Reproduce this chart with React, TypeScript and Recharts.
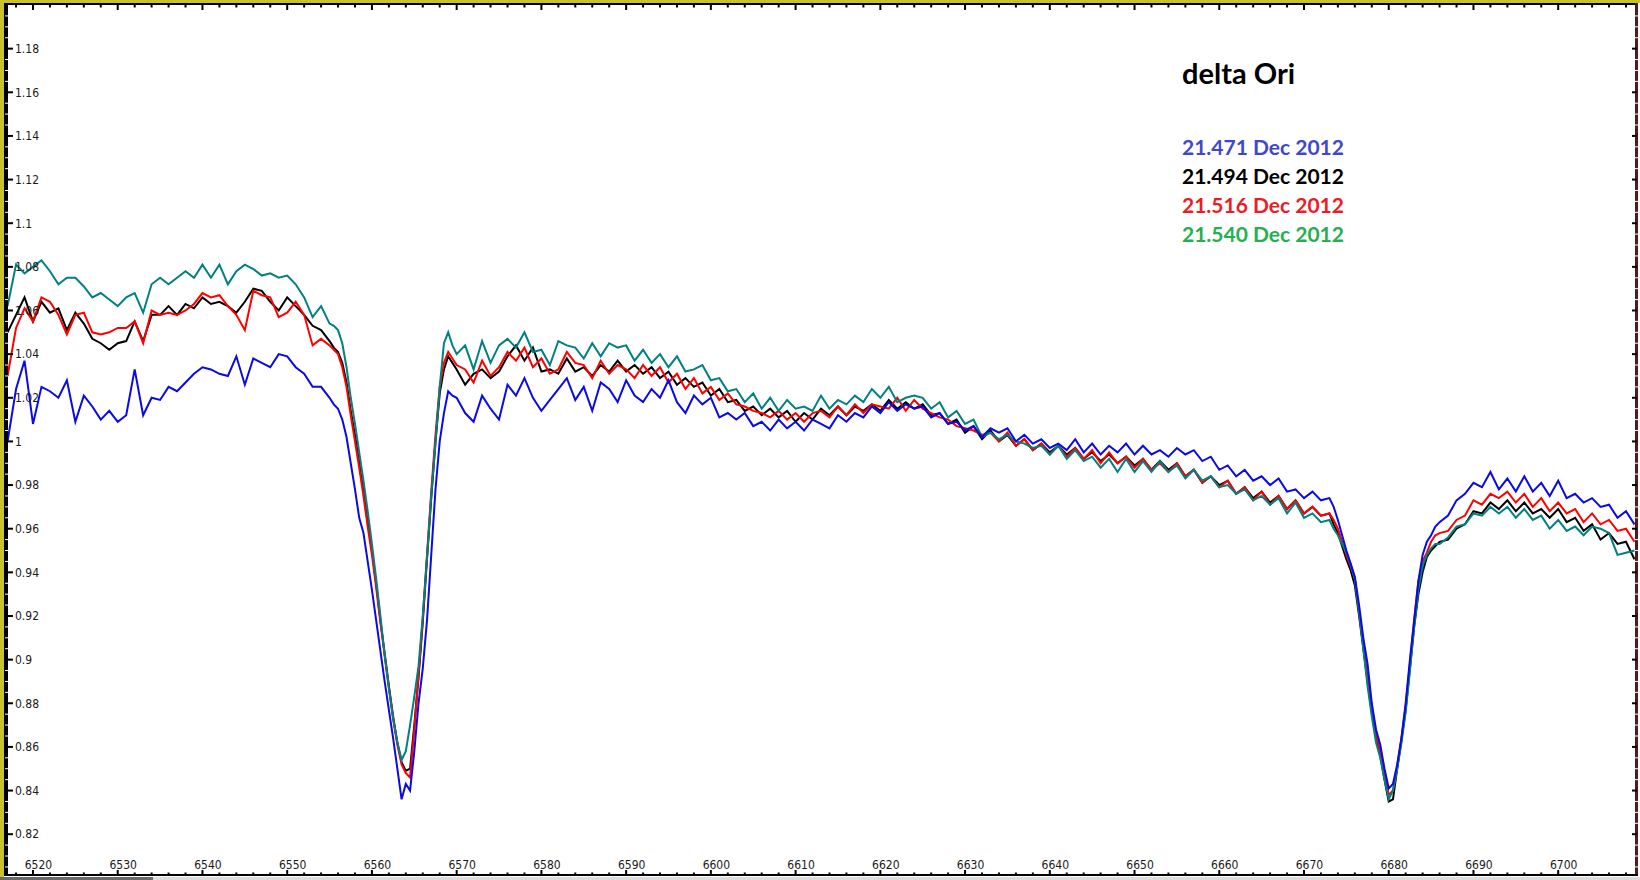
import { Line, LineChart, XAxis, YAxis } from "recharts";

// wavelength grid (Angstrom), finer across the two absorption lines
const wavelengths = [
  6517, 6518, 6519, 6520, 6521, 6522, 6523, 6524, 6525, 6526,
  6527, 6528, 6529, 6530, 6531, 6532, 6533, 6534, 6535, 6536,
  6537, 6538, 6539, 6540, 6541, 6542, 6543, 6544, 6545, 6546,
  6547, 6548, 6549, 6550, 6551, 6552, 6553, 6554, 6555,
  6555.5, 6556, 6556.5, 6557, 6557.5, 6558, 6558.5, 6559, 6559.5, 6560,
  6560.5, 6561, 6561.5, 6562, 6562.5, 6563, 6563.5, 6564, 6564.5, 6565,
  6565.5, 6566, 6566.5, 6567, 6567.5, 6568, 6568.5, 6569, 6569.5, 6570,
  6571, 6572, 6573, 6574, 6575, 6576, 6577, 6578, 6579, 6580,
  6581, 6582, 6583, 6584, 6585, 6586, 6587, 6588, 6589, 6590,
  6591, 6592, 6593, 6594, 6595, 6596, 6597, 6598, 6599, 6600,
  6601, 6602, 6603, 6604, 6605, 6606, 6607, 6608, 6609, 6610,
  6611, 6612, 6613, 6614, 6615, 6616, 6617, 6618, 6619, 6620,
  6621, 6622, 6623, 6624, 6625, 6626, 6627, 6628, 6629, 6630,
  6631, 6632, 6633, 6634, 6635, 6636, 6637, 6638, 6639, 6640,
  6641, 6642, 6643, 6644, 6645, 6646, 6647, 6648, 6649, 6650,
  6651, 6652, 6653, 6654, 6655, 6656, 6657, 6658, 6659, 6660,
  6661, 6662, 6663, 6664, 6665, 6666, 6667, 6668, 6669, 6670,
  6671, 6672, 6673,
  6673.5, 6674, 6674.5, 6675, 6675.5, 6676, 6676.5, 6677, 6677.5, 6678,
  6678.5, 6679, 6679.5, 6680, 6680.5, 6681, 6681.5, 6682, 6682.5, 6683,
  6683.5, 6684, 6684.5, 6685, 6685.5, 6686,
  6687, 6688, 6689, 6690, 6691, 6692, 6693, 6694, 6695, 6696,
  6697, 6698, 6699, 6700, 6701, 6702, 6703, 6704, 6705, 6706,
  6707, 6708, 6709,
];

// 21.471 Dec 2012
const blueFlux = [
  1.000, 1.024, 1.037, 1.008, 1.025, 1.023, 1.020, 1.028, 1.009, 1.021,
  1.016, 1.010, 1.014, 1.009, 1.012, 1.033, 1.012, 1.020, 1.019, 1.025,
  1.023, 1.027, 1.031, 1.034, 1.033, 1.031, 1.030, 1.039, 1.026, 1.038,
  1.036, 1.034, 1.040, 1.039, 1.034, 1.031, 1.025, 1.025, 1.020,
  1.017, 1.015, 1.010, 1.002, 0.990, 0.978, 0.965, 0.958, 0.945, 0.932,
  0.918, 0.904, 0.890, 0.877, 0.864, 0.850, 0.836, 0.843, 0.840, 0.858,
  0.880, 0.896, 0.918, 0.948, 0.978, 1.000, 1.013, 1.023, 1.021, 1.020,
  1.013, 1.009, 1.021, 1.015, 1.010, 1.026, 1.021, 1.029, 1.020, 1.014,
  1.019, 1.024, 1.029, 1.019, 1.025, 1.014, 1.027, 1.024, 1.018, 1.028,
  1.021, 1.018, 1.024, 1.020, 1.028, 1.018, 1.013, 1.021, 1.017, 1.020,
  1.011, 1.013, 1.010, 1.013, 1.007, 1.009, 1.005, 1.010, 1.006, 1.009,
  1.005, 1.010, 1.008, 1.006, 1.012, 1.009, 1.013, 1.011, 1.016, 1.013,
  1.018, 1.014, 1.017, 1.015, 1.016, 1.011, 1.013, 1.008, 1.009, 1.005,
  1.007, 1.002, 1.006, 1.004, 1.006, 1.000, 1.003, 0.999, 1.001, 0.997,
  0.999, 0.996, 1.001, 0.995, 0.999, 0.994, 0.998, 0.995, 0.999, 0.994,
  0.998, 0.994, 0.996, 0.993, 0.997, 0.994, 0.996, 0.991, 0.993, 0.987,
  0.989, 0.984, 0.987, 0.982, 0.984, 0.980, 0.983, 0.977, 0.978, 0.974,
  0.977, 0.973, 0.974,
  0.970, 0.964, 0.957, 0.950, 0.944, 0.938, 0.925, 0.910, 0.898, 0.880,
  0.868, 0.861, 0.850, 0.841, 0.843, 0.852, 0.864, 0.880, 0.900, 0.918,
  0.936, 0.948, 0.954, 0.957, 0.961, 0.963,
  0.966, 0.973, 0.976, 0.981, 0.979, 0.986, 0.978, 0.983, 0.977, 0.984,
  0.977, 0.981, 0.975, 0.982, 0.974, 0.976, 0.972, 0.974, 0.970, 0.971,
  0.965, 0.968, 0.962,
];

// 21.494 Dec 2012
const blackFlux = [
  1.050, 1.058, 1.066, 1.055, 1.064, 1.059, 1.061, 1.051, 1.059, 1.054,
  1.047, 1.045, 1.042, 1.045, 1.046, 1.055, 1.046, 1.058, 1.058, 1.062,
  1.058, 1.063, 1.061, 1.066, 1.063, 1.064, 1.062, 1.059, 1.064, 1.070,
  1.069, 1.064, 1.060, 1.066, 1.062, 1.058, 1.053, 1.051, 1.046,
  1.043, 1.041, 1.036, 1.027, 1.014, 1.003, 0.990, 0.977, 0.963, 0.950,
  0.935, 0.918, 0.903, 0.888, 0.874, 0.862, 0.853, 0.849, 0.850, 0.870,
  0.892, 0.917, 0.946, 0.974, 1.000, 1.022, 1.033, 1.039, 1.036, 1.033,
  1.026, 1.031, 1.033, 1.029, 1.032, 1.039, 1.044, 1.037, 1.043, 1.032,
  1.033, 1.031, 1.038, 1.032, 1.034, 1.030, 1.035, 1.032, 1.037, 1.032,
  1.035, 1.031, 1.034, 1.029, 1.032, 1.026, 1.029, 1.025, 1.027, 1.021,
  1.024, 1.018, 1.019, 1.014, 1.016, 1.012, 1.015, 1.011, 1.014, 1.009,
  1.013, 1.010, 1.015, 1.012, 1.016, 1.012, 1.016, 1.014, 1.017, 1.014,
  1.019, 1.015, 1.018, 1.015, 1.017, 1.012, 1.013, 1.008, 1.010, 1.004,
  1.007, 1.001, 1.005, 1.000, 1.003, 0.998, 1.001, 0.996, 0.999, 0.995,
  0.998, 0.994, 0.997, 0.992, 0.995, 0.991, 0.994, 0.990, 0.993, 0.989,
  0.992, 0.987, 0.991, 0.987, 0.990, 0.984, 0.987, 0.981, 0.984, 0.980,
  0.982, 0.976, 0.979, 0.974, 0.977, 0.972, 0.975, 0.969, 0.973, 0.967,
  0.970, 0.966, 0.967,
  0.962, 0.958, 0.952, 0.946, 0.941, 0.934, 0.920, 0.905, 0.890, 0.876,
  0.864, 0.856, 0.845, 0.835, 0.836, 0.850, 0.863, 0.877, 0.896, 0.915,
  0.930, 0.940, 0.947, 0.950, 0.952, 0.954,
  0.955, 0.960, 0.962, 0.968, 0.967, 0.972, 0.969, 0.973, 0.968, 0.972,
  0.967, 0.969, 0.965, 0.969, 0.963, 0.965, 0.959, 0.962, 0.955, 0.958,
  0.953, 0.954, 0.946,
];

// 21.516 Dec 2012
const redFlux = [
  1.030, 1.052, 1.061, 1.055, 1.066, 1.064, 1.058, 1.049, 1.058, 1.059,
  1.050, 1.049, 1.050, 1.052, 1.052, 1.055, 1.045, 1.060, 1.058, 1.059,
  1.058, 1.060, 1.063, 1.068, 1.066, 1.067, 1.062, 1.058, 1.051, 1.069,
  1.067, 1.066, 1.057, 1.059, 1.064, 1.058, 1.044, 1.047, 1.044,
  1.042, 1.040, 1.034, 1.025, 1.012, 1.000, 0.988, 0.975, 0.961, 0.948,
  0.933, 0.917, 0.902, 0.887, 0.873, 0.861, 0.852, 0.848, 0.846, 0.868,
  0.893, 0.919, 0.948, 0.977, 1.003, 1.025, 1.036, 1.041, 1.038, 1.035,
  1.033, 1.027, 1.037, 1.030, 1.034, 1.041, 1.037, 1.043, 1.034, 1.038,
  1.031, 1.033, 1.041, 1.036, 1.035, 1.029, 1.037, 1.031, 1.035, 1.033,
  1.029, 1.035, 1.030, 1.034, 1.027, 1.031, 1.024, 1.029, 1.022, 1.025,
  1.019, 1.022, 1.017, 1.016, 1.014, 1.013, 1.011, 1.014, 1.010, 1.013,
  1.009, 1.013, 1.014, 1.011, 1.016, 1.012, 1.017, 1.013, 1.017, 1.016,
  1.015, 1.020, 1.014, 1.019, 1.015, 1.013, 1.011, 1.010, 1.007, 1.006,
  1.005, 1.003, 1.004, 1.000, 1.004, 0.998, 1.001, 0.996, 0.999, 0.994,
  0.998, 0.993, 0.997, 0.992, 0.996, 0.990, 0.995, 0.990, 0.993, 0.988,
  0.992, 0.987, 0.990, 0.986, 0.990, 0.984, 0.987, 0.981, 0.984, 0.979,
  0.982, 0.976, 0.979, 0.973, 0.977, 0.971, 0.975, 0.969, 0.973, 0.967,
  0.970, 0.966, 0.967,
  0.964, 0.960, 0.954, 0.948, 0.943, 0.937, 0.922, 0.907, 0.892, 0.878,
  0.866, 0.858, 0.847, 0.838, 0.840, 0.851, 0.864, 0.879, 0.898, 0.918,
  0.936, 0.945, 0.949, 0.954, 0.957, 0.958,
  0.959, 0.964, 0.966, 0.973, 0.971, 0.976, 0.974, 0.977, 0.972, 0.976,
  0.970, 0.974, 0.968, 0.972, 0.967, 0.969, 0.963, 0.967, 0.962, 0.964,
  0.959, 0.960, 0.954,
];

// 21.540 Dec 2012
const tealFlux = [
  1.062, 1.081, 1.077, 1.080, 1.083, 1.078, 1.072, 1.075, 1.075, 1.071,
  1.066, 1.068, 1.065, 1.062, 1.066, 1.068, 1.059, 1.072, 1.075, 1.072,
  1.075, 1.078, 1.075, 1.081, 1.075, 1.081, 1.072, 1.078, 1.081, 1.079,
  1.076, 1.077, 1.075, 1.076, 1.072, 1.066, 1.057, 1.062, 1.054,
  1.053, 1.051, 1.045, 1.034, 1.020, 1.008, 0.995, 0.982, 0.968, 0.953,
  0.937, 0.920, 0.902, 0.887, 0.873, 0.862, 0.854, 0.858, 0.870, 0.883,
  0.897, 0.920, 0.947, 0.975, 0.999, 1.025, 1.045, 1.050, 1.044, 1.040,
  1.044, 1.033, 1.046, 1.036, 1.044, 1.047, 1.043, 1.050, 1.041, 1.042,
  1.035, 1.046, 1.044, 1.043, 1.038, 1.045, 1.039, 1.045, 1.043, 1.044,
  1.037, 1.042, 1.036, 1.040, 1.034, 1.039, 1.032, 1.033, 1.035, 1.028,
  1.029, 1.023, 1.024, 1.018, 1.022, 1.015, 1.020, 1.014, 1.019, 1.015,
  1.016, 1.014, 1.021, 1.015, 1.019, 1.017, 1.021, 1.018, 1.024, 1.020,
  1.025, 1.018, 1.020, 1.021, 1.020, 1.015, 1.018, 1.011, 1.014, 1.008,
  1.010, 1.002, 1.004, 1.001, 1.003, 1.000, 0.999, 0.997, 0.998, 0.994,
  0.998, 0.992, 0.996, 0.991, 0.993, 0.988, 0.992, 0.986, 0.992, 0.986,
  0.991, 0.986, 0.991, 0.986, 0.989, 0.983, 0.987, 0.982, 0.984, 0.979,
  0.980, 0.976, 0.978, 0.973, 0.975, 0.971, 0.974, 0.967, 0.972, 0.965,
  0.967, 0.963, 0.964,
  0.960, 0.957, 0.953, 0.949, 0.944, 0.937, 0.922, 0.905, 0.888, 0.874,
  0.862, 0.855, 0.845, 0.836, 0.840, 0.850, 0.862, 0.876, 0.895, 0.915,
  0.932, 0.943, 0.948, 0.951, 0.953, 0.953,
  0.956, 0.961, 0.962, 0.967, 0.966, 0.970, 0.967, 0.970, 0.965, 0.969,
  0.964, 0.966, 0.960, 0.964, 0.959, 0.961, 0.957, 0.961, 0.960, 0.958,
  0.948, 0.949, 0.950,
];

const xTickLabels = [
  6520, 6530, 6540, 6550, 6560, 6570, 6580, 6590, 6600, 6610,
  6620, 6630, 6640, 6650, 6660, 6670, 6680, 6690, 6700,
];
const yTickLabels = [
  1.18, 1.16, 1.14, 1.12, 1.1, 1.08, 1.06, 1.04, 1.02, 1,
  0.98, 0.96, 0.94, 0.92, 0.9, 0.88, 0.86, 0.84, 0.82,
];

const legendTitle = "delta Ori";
const legendDates = ["21.471 Dec 2012", "21.494 Dec 2012", "21.516 Dec 2012", "21.540 Dec 2012"];
const legendColors = ["#3f48cc", "#000000", "#ed1c24", "#22b14c"];

const data = wavelengths.map((w, i) => ({
  w,
  blue: blueFlux[i],
  black: blackFlux[i],
  red: redFlux[i],
  teal: tealFlux[i],
}));

// minor ticks: every 2 A on x, every 0.005 on y
const xTicks: number[] = [];
for (let t = 6518; t <= 6708; t += 2) xTicks.push(t);
const yTicks: number[] = [];
for (let i = 161; i <= 239; i++) yTicks.push(i / 200);

const xDomain: [number, number] = [6517.05, 6709.3];
const yDomain: [number, number] = [0.8013, 1.2];

const tickFont = "'DejaVu Sans Condensed', 'Liberation Sans', sans-serif";
const legendFont = "Lato, 'Open Sans', sans-serif";
const isXMajor = (v: number) => xTickLabels.includes(v);
const isYMajor = (v: number) => yTickLabels.some((l) => Math.abs(l - v) < 1e-6);

const BottomTick = ({ x, y, payload }: any) => {
  const major = isXMajor(payload.value);
  return (
    <g>
      <line x1={x} x2={x} y1={y} y2={y - (major ? 5 : 2.5)} stroke="#000" strokeWidth={2} />
      {major && (
        <text x={x + 5.5} y={y - 6} textAnchor="middle" fontSize={12} fontFamily={tickFont} fill="#1a1a1a">
          {payload.value}
        </text>
      )}
    </g>
  );
};

const TopTick = ({ x, y, payload }: any) => {
  const major = isXMajor(payload.value);
  return <line x1={x} x2={x} y1={y} y2={y + (major ? 5 : 2.5)} stroke="#000" strokeWidth={2} />;
};

const LeftTick = ({ x, y, payload }: any) => {
  const v = payload.value;
  if (!isYMajor(v)) {
    return <line x1={x - 3} x2={x} y1={y} y2={y} stroke="#fff" strokeWidth={1} />;
  }
  return (
    <g>
      <line x1={x} x2={x + 5} y1={y} y2={y} stroke="#000" strokeWidth={2} />
      <text x={x + 7} y={y + 4.3} textAnchor="start" fontSize={12} fontFamily={tickFont} fill="#1a1a1a">
        {String(Number(v.toFixed(2)))}
      </text>
    </g>
  );
};

const RightTick = ({ x, y, payload }: any) => {
  if (!isYMajor(payload.value)) {
    return <line x1={x - 2} x2={x + 1} y1={y} y2={y} stroke="#fff" strokeWidth={1} />;
  }
  return <line x1={x - 5} x2={x} y1={y} y2={y} stroke="#000" strokeWidth={2} />;
};

const frame = (style: React.CSSProperties) => <div style={{ position: "absolute", ...style }} />;

export default function App() {
  return (
    <div style={{ position: "absolute", left: 0, top: 0, width: 1640, height: 880, background: "#fff", overflow: "hidden" }}>
      {frame({ left: 0, top: 0, width: 1640, height: 3, background: "#c8c32a" })}
      {frame({ left: 0, top: 0, width: 4, height: 877, background: "#c8c32a" })}
      {frame({ left: 4, top: 3, width: 1634, height: 2, background: "#000" })}
      {frame({ left: 4, top: 3, width: 4, height: 873, background: "#000" })}
      {frame({ left: 1635, top: 3, width: 3, height: 873, background: "#4e1c1c" })}
      {frame({ left: 4, top: 874, width: 1634, height: 2, background: "#000" })}
      {frame({ left: 0, top: 877, width: 1640, height: 3, background: "#dcdcdc" })}
      {frame({ left: 0, top: 877, width: 153, height: 3, background: "#6a6a6a" })}

      <div style={{ position: "absolute", left: 0, top: 0 }}>
        <LineChart width={1640} height={880} data={data} margin={{ top: 5, right: 3, bottom: 5, left: 8 }}>
          <XAxis
            xAxisId="b"
            type="number"
            dataKey="w"
            domain={xDomain}
            allowDataOverflow
            orientation="bottom"
            mirror
            ticks={xTicks}
            interval={0}
            tickSize={0}
            tickMargin={0}
            axisLine={false}
            tickLine={false}
            tick={(p: any) => <BottomTick {...p} />}
          />
          <XAxis
            xAxisId="t"
            type="number"
            dataKey="w"
            domain={xDomain}
            allowDataOverflow
            orientation="top"
            mirror
            ticks={xTicks}
            interval={0}
            tickSize={0}
            tickMargin={0}
            axisLine={false}
            tickLine={false}
            tick={(p: any) => <TopTick {...p} />}
          />
          <YAxis
            yAxisId="l"
            type="number"
            domain={yDomain}
            allowDataOverflow
            orientation="left"
            mirror
            ticks={yTicks}
            interval={0}
            tickSize={0}
            tickMargin={0}
            axisLine={false}
            tickLine={false}
            tick={(p: any) => <LeftTick {...p} />}
          />
          <YAxis
            yAxisId="r"
            type="number"
            domain={yDomain}
            allowDataOverflow
            orientation="right"
            mirror
            ticks={yTicks}
            interval={0}
            tickSize={0}
            tickMargin={0}
            axisLine={false}
            tickLine={false}
            tick={(p: any) => <RightTick {...p} />}
          />
          <Line xAxisId="b" yAxisId="l" type="linear" dataKey="black" stroke="#000000" strokeWidth={2} dot={false} isAnimationActive={false} />
          <Line xAxisId="b" yAxisId="l" type="linear" dataKey="red" stroke="#ff0000" strokeWidth={2} dot={false} isAnimationActive={false} />
          <Line xAxisId="b" yAxisId="l" type="linear" dataKey="teal" stroke="#008080" strokeWidth={2} dot={false} isAnimationActive={false} />
          <Line xAxisId="b" yAxisId="l" type="linear" dataKey="blue" stroke="#0a0ae6" strokeWidth={2} dot={false} isAnimationActive={false} />
        </LineChart>
      </div>

      <svg width={1640} height={880} style={{ position: "absolute", left: 0, top: 0, pointerEvents: "none" }}>
        <text x={1182} y={84} fontFamily={legendFont} fontWeight={700} fontSize={29} fill="#000">
          {legendTitle}
        </text>
        {legendDates.map((d, i) => (
          <text key={d} x={1182} y={155 + i * 28.9} fontFamily={legendFont} fontWeight={700} fontSize={21} fill={legendColors[i]}>
            {d}
          </text>
        ))}
      </svg>
    </div>
  );
}
